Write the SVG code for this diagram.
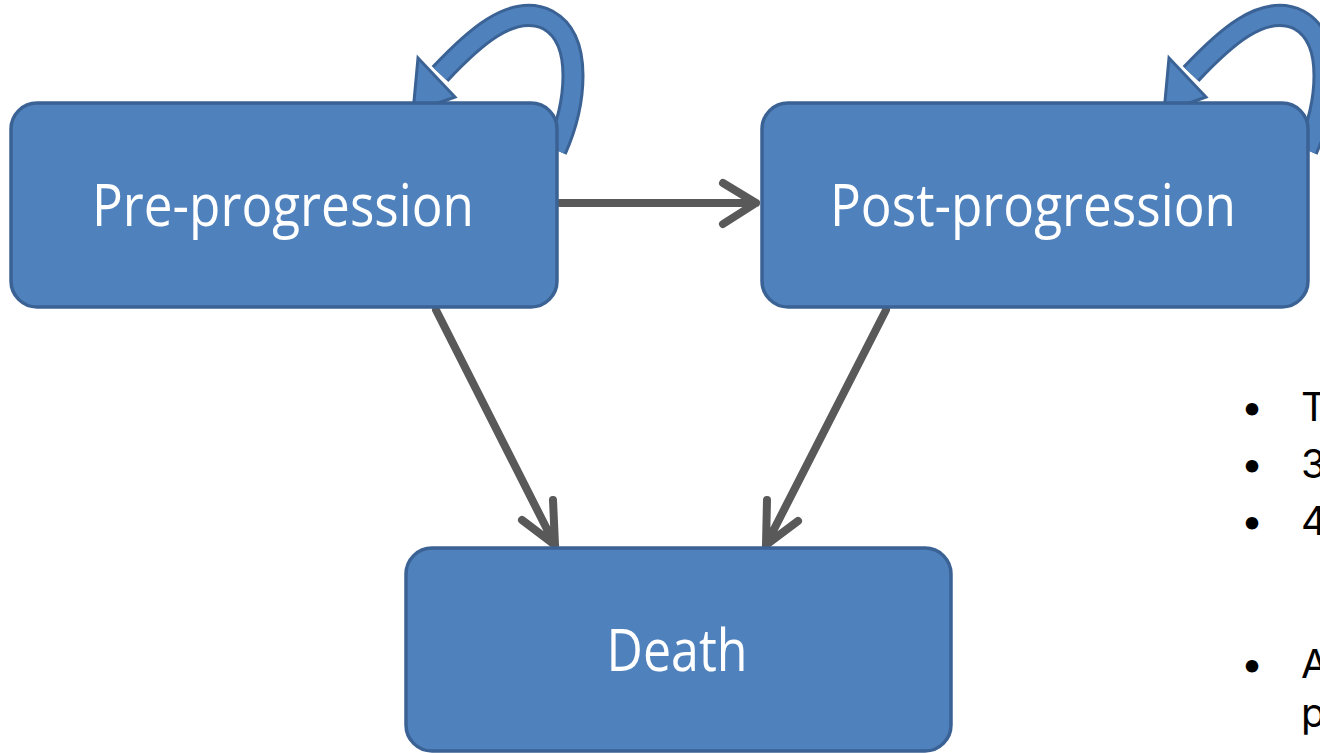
<svg xmlns="http://www.w3.org/2000/svg" width="1320" height="753" viewBox="0 0 1320 753">
<defs>
<style>
.box{fill:#4F81BD;stroke:#3B6294;stroke-width:3.5}
.lbl{font-family:"Open Sans","Noto Sans",sans-serif;font-size:58px;fill:#FFFFFF;text-anchor:middle}
.edge{fill:none;stroke:#595959;stroke-width:8;stroke-linecap:round;stroke-linejoin:round}
.loopo{fill:none;stroke:#3B6294;stroke-width:23}
.loopi{fill:none;stroke:#4F81BD;stroke-width:17}
.head{fill:#4F81BD;stroke:#3B6294;stroke-width:3;stroke-linejoin:miter}
.bul{font-family:Inter,"Open Sans",sans-serif;font-size:40px;fill:#000000}
</style>
<g id="loopShape">
<path class="loopo" d="M556,150 C576,105 584,40 548,20 C512,2 472,40 440,74"/>
<path class="loopi" d="M556,150 C576,105 584,40 548,20 C512,2 472,40 440,74"/>
<polygon class="head" points="418,58 455,97 413,112"/>
</g>
</defs>
<g id="connectors">
<use href="#loopShape"/>
<use href="#loopShape" transform="translate(751,0)"/>
<path class="edge" d="M560,203 L756,203 M723,183 L756,203 L723,224"/>
<path class="edge" d="M436,310 L555,545 M553,500 L555,545 L522,520"/>
<path class="edge" d="M886,310 L766,545 M767,500 L766,545 L798,521"/>
</g>
<g id="pre-progression">
<rect class="box" x="11" y="103" width="546" height="204" rx="26"/>
<text class="lbl" x="283" y="226" textLength="382" lengthAdjust="spacingAndGlyphs">Pre-progression</text>
</g>
<g id="post-progression">
<rect class="box" x="762" y="103" width="546" height="204" rx="26"/>
<text class="lbl" x="1033" y="226" textLength="406" lengthAdjust="spacingAndGlyphs">Post-progression</text>
</g>
<g id="death">
<rect class="box" x="406" y="548" width="545" height="203" rx="26"/>
<text class="lbl" x="677" y="671" textLength="141" lengthAdjust="spacingAndGlyphs">Death</text>
</g>
<g id="notes">
<text class="bul" x="1252" y="421" text-anchor="middle">•</text>
<text class="bul" x="1301" y="421">T</text>
<text class="bul" x="1252" y="478" text-anchor="middle">•</text>
<text class="bul" x="1301" y="478">3</text>
<text class="bul" x="1252" y="535" text-anchor="middle">•</text>
<text class="bul" x="1301" y="535">4</text>
<text class="bul" x="1252" y="678" text-anchor="middle">•</text>
<text class="bul" x="1301" y="678">A</text>
<text class="bul" x="1301" y="727">p</text>
</g>
</svg>
